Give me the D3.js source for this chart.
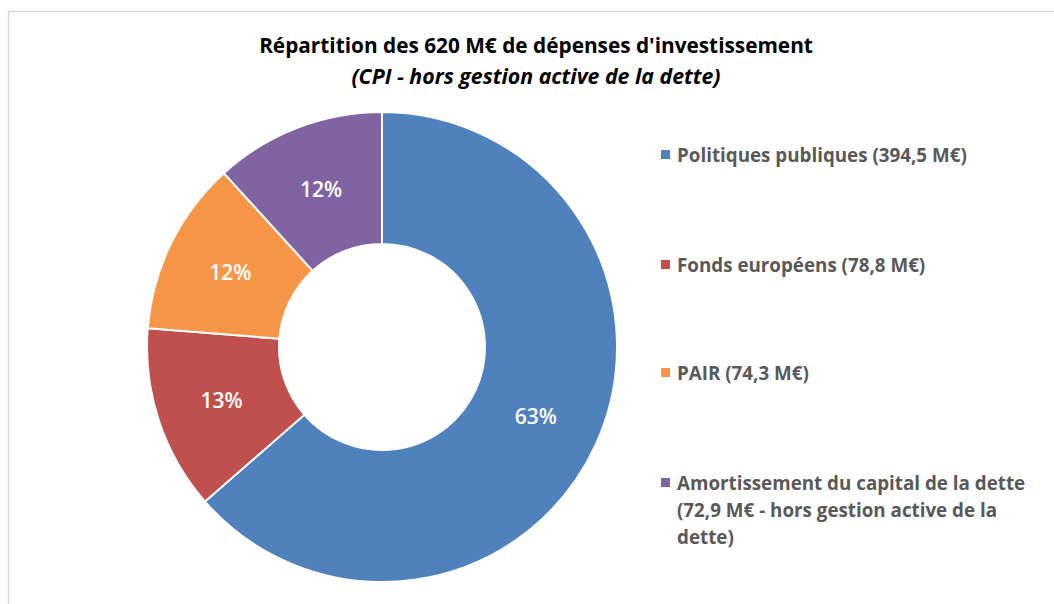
<!DOCTYPE html>
<html>
<head>
<meta charset="utf-8">
<script src="https://cdn.jsdelivr.net/npm/d3@7"></script>
<style>
  body { margin: 0; background: #fff; }
  svg { font-family: "Open Sans", Lato, sans-serif; }
</style>
</head>
<body>
<svg id="graph" width="1054" height="604"></svg>
<script>
// Chart data
var categories = ['Politiques publiques', 'Fonds européens', 'PAIR', 'Amortissement du capital de la dette'];
var values = [394.5, 78.8, 74.3, 72.9];
var pctLabels = ['63%', '13%', '12%', '12%'];
var legendLabels = [
  ['Politiques publiques (394,5 M€)'],
  ['Fonds européens (78,8 M€)'],
  ['PAIR (74,3 M€)'],
  ['Amortissement du capital de la dette', '(72,9 M€ - hors gestion active de la', 'dette)']
];
var colors = ['#4f81bd', '#c0504d', '#f79646', '#8064a2'];

/*******************************************************************************************/

var svg = d3.select('#graph');

// chart frame (cut by the window on right and bottom)
svg.append('rect').attr('x', 8.5).attr('y', 11.5).attr('width', 1100).attr('height', 700)
   .style('fill', '#fff').style('stroke', '#d9d9d9').style('stroke-width', 1.5);

svg.append('text').attr('x', 536).attr('y', 53).attr('text-anchor', 'middle')
   .style('font-size', '20.8px').style('font-weight', 'bold').style('fill', '#000')
   .text('Répartition des 620 M€ de dépenses d\'investissement');
svg.append('text').attr('x', 536).attr('y', 84).attr('text-anchor', 'middle')
   .style('font-size', '21.3px').style('font-weight', 'bold').style('font-style', 'italic').style('fill', '#000')
   .text('(CPI - hors gestion active de la dette)');

var cx = 382, cy = 347, outerR = 235, innerR = 103;

var pie = d3.pie().sort(null).value(d => d);
var arc = d3.arc().innerRadius(innerR).outerRadius(outerR);
var labelArc = d3.arc().innerRadius((innerR + outerR) / 2).outerRadius((innerR + outerR) / 2);

var donut = svg.append('g').attr('transform', 'translate(' + cx + ',' + cy + ')');
var slices = pie(values);

donut.selectAll('path').data(slices).enter().append('path')
     .attr('d', arc)
     .style('fill', (d, i) => colors[i])
     .style('stroke', '#fff').style('stroke-width', 2);

donut.selectAll('text').data(slices).enter().append('text')
     .attr('transform', d => 'translate(' + labelArc.centroid(d) + ')')
     .attr('text-anchor', 'middle').attr('dy', '0.36em')
     .style('font-size', '21px').style('font-weight', 600).style('fill', '#fff')
     .text((d, i) => pctLabels[i]);

// legend
var legendY = [155, 265, 373, 483];
var legend = svg.append('g');
legendLabels.forEach(function(lines, i){
  var g = legend.append('g').attr('transform', 'translate(0,' + legendY[i] + ')');
  g.append('rect').attr('x', 661).attr('y', -5).attr('width', 9).attr('height', 9).style('fill', colors[i]);
  lines.forEach(function(t, j){
    g.append('text').attr('x', 677).attr('y', j * 27).attr('dy', '0.35em')
     .style('font-size', '18.8px').style('font-weight', 'bold').style('fill', '#595959')
     .text(t);
  });
});
</script>
</body>
</html>
